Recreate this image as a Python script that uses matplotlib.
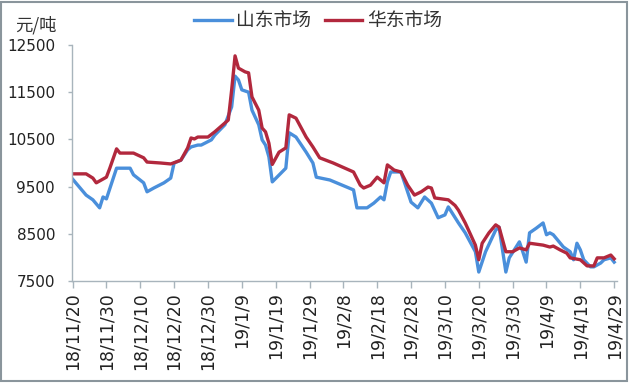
import matplotlib
matplotlib.use("Agg")
import matplotlib.pyplot as plt
from matplotlib.patches import Rectangle
import pandas as pd

plt.rcParams['font.family'] = ['DejaVu Sans', 'Noto Sans CJK SC']

# 山东市场 (blue)
sd_dates = ["2018-11-20", "2018-11-24", "2018-11-26", "2018-11-28", "2018-11-29", "2018-11-30",
            "2018-12-03", "2018-12-07", "2018-12-08", "2018-12-11", "2018-12-12", "2018-12-14",
            "2018-12-17", "2018-12-19", "2018-12-20", "2018-12-22", "2018-12-24", "2018-12-25",
            "2018-12-27", "2018-12-28", "2018-12-31", "2019-01-01", "2019-01-04", "2019-01-06",
            "2019-01-07", "2019-01-08", "2019-01-09", "2019-01-11", "2019-01-12", "2019-01-14",
            "2019-01-15", "2019-01-16", "2019-01-17", "2019-01-18", "2019-01-22", "2019-01-23",
            "2019-01-25", "2019-01-28", "2019-01-30", "2019-01-31", "2019-02-04", "2019-02-11",
            "2019-02-12", "2019-02-15", "2019-02-17", "2019-02-19", "2019-02-20", "2019-02-21",
            "2019-02-22", "2019-02-25", "2019-02-26", "2019-02-28", "2019-03-02", "2019-03-04",
            "2019-03-06", "2019-03-08", "2019-03-10", "2019-03-11", "2019-03-14", "2019-03-16",
            "2019-03-19", "2019-03-20", "2019-03-22", "2019-03-25", "2019-03-26", "2019-03-28",
            "2019-03-29", "2019-04-01", "2019-04-02", "2019-04-03", "2019-04-04", "2019-04-06",
            "2019-04-08", "2019-04-09", "2019-04-10", "2019-04-11", "2019-04-14", "2019-04-16",
            "2019-04-17", "2019-04-18", "2019-04-19", "2019-04-20", "2019-04-22", "2019-04-23",
            "2019-04-25", "2019-04-26", "2019-04-28", "2019-04-29"]
sd_values = [9660, 9320, 9220, 9050, 9280, 9240,
             9890, 9890, 9750, 9580, 9390, 9470,
             9580, 9680, 10000, 10060, 10280, 10340,
             10380, 10380, 10490, 10590, 10810, 11190,
             11840, 11760, 11550, 11500, 11120, 10810,
             10490, 10380, 10130, 9600, 9890, 10640,
             10550, 10230, 10000, 9700, 9640, 9430,
             9050, 9050, 9150, 9280, 9220, 9600,
             9810, 9810, 9600, 9170, 9050, 9280,
             9150, 8840, 8900, 9070, 8730, 8520,
             8120, 7690, 8120, 8580, 8640, 7690,
             7990, 8330, 8120, 7900, 8520, 8620,
             8730, 8480, 8520, 8480, 8220, 8120,
             7950, 8300, 8160, 7950, 7800, 7800,
             7880, 7950, 7990, 7900]

# 华东市场 (red)
hd_dates = ["2018-11-20", "2018-11-24", "2018-11-26", "2018-11-27", "2018-11-29", "2018-11-30",
            "2018-12-01", "2018-12-03", "2018-12-04", "2018-12-08", "2018-12-11", "2018-12-12",
            "2018-12-16", "2018-12-19", "2018-12-22", "2018-12-24", "2018-12-25", "2018-12-26",
            "2018-12-27", "2018-12-30", "2019-01-01", "2019-01-05", "2019-01-06", "2019-01-07",
            "2019-01-08", "2019-01-10", "2019-01-11", "2019-01-12", "2019-01-14", "2019-01-15",
            "2019-01-16", "2019-01-17", "2019-01-18", "2019-01-20", "2019-01-22", "2019-01-23",
            "2019-01-25", "2019-01-28", "2019-01-30", "2019-02-01", "2019-02-05", "2019-02-11",
            "2019-02-13", "2019-02-14", "2019-02-16", "2019-02-18", "2019-02-20", "2019-02-21",
            "2019-02-23", "2019-02-25", "2019-02-27", "2019-03-01", "2019-03-03", "2019-03-05",
            "2019-03-06", "2019-03-07", "2019-03-11", "2019-03-13", "2019-03-14", "2019-03-16",
            "2019-03-19", "2019-03-20", "2019-03-21", "2019-03-23", "2019-03-25", "2019-03-26",
            "2019-03-28", "2019-03-30", "2019-04-01", "2019-04-03", "2019-04-04", "2019-04-08",
            "2019-04-10", "2019-04-11", "2019-04-13", "2019-04-15", "2019-04-16", "2019-04-19",
            "2019-04-21", "2019-04-23", "2019-04-24", "2019-04-26", "2019-04-28", "2019-04-29"]
hd_values = [9770, 9770, 9680, 9580, 9660, 9700,
             9890, 10300, 10210, 10210, 10110, 10020,
             10000, 9980, 10060, 10320, 10530, 10510,
             10550, 10550, 10660, 10910, 11550, 12270,
             12010, 11930, 11910, 11400, 11120, 10740,
             10660, 10420, 9970, 10230, 10320, 11020,
             10950, 10550, 10340, 10110, 10000, 9810,
             9530, 9470, 9530, 9700, 9580, 9960,
             9850, 9810, 9530, 9320, 9390, 9490,
             9470, 9260, 9220, 9100, 9000, 8730,
             8260, 7950, 8300, 8520, 8690, 8640,
             8120, 8120, 8200, 8160, 8300, 8260,
             8220, 8240, 8160, 8090, 7990, 7950,
             7820, 7820, 7990, 7990, 8050, 7970]

x_tick_labels = ["18/11/20", "18/11/30", "18/12/10", "18/12/20", "18/12/30", "19/1/9",
                 "19/1/19", "19/1/29", "19/2/8", "19/2/18", "19/2/28", "19/3/10",
                 "19/3/20", "19/3/30", "19/4/9", "19/4/19", "19/4/29"]
y_ticks = [7500, 8500, 9500, 10500, 11500, 12500]
series_names = ["山东市场", "华东市场"]
unit_label = "元/吨"

blue = "#4a8fdb"
red = "#b2283d"
axis_col = "#a8b4bc"
cjk = ['Noto Sans CJK SC', 'DejaVu Sans']

fig = plt.figure(figsize=(6.32, 3.86), dpi=100)
ax = fig.add_axes([72/632, 1 - 281/386, (617 - 72)/632, (281 - 45)/386])

sd_x = pd.to_datetime(sd_dates)
hd_x = pd.to_datetime(hd_dates)
ax.plot(sd_x, sd_values, color=blue, lw=2.4, label=series_names[0], solid_joinstyle='round')
ax.plot(hd_x, hd_values, color=red, lw=2.4, label=series_names[1], solid_joinstyle='round')

tick_dates = [pd.to_datetime("20" + s, format="%Y/%m/%d") for s in x_tick_labels]
ax.set_xticks(tick_dates)
ax.set_xticklabels(x_tick_labels, rotation=90, fontsize=12.5, color="#222222")
ax.set_xlim(pd.Timestamp("2018-11-20") - pd.Timedelta(hours=4),
            pd.Timestamp("2019-04-29") + pd.Timedelta(hours=20))

ax.set_ylim(7500, 12500)
ax.set_yticks(y_ticks)
ax.set_yticklabels([str(v) for v in y_ticks], fontsize=11, color="#222222")

for s in ["top", "right"]:
    ax.spines[s].set_visible(False)
for s in ["left", "bottom"]:
    ax.spines[s].set_color(axis_col)
    ax.spines[s].set_linewidth(1.0)
ax.tick_params(axis="x", direction="out", length=5, color=axis_col, width=1.0, pad=3)
ax.tick_params(axis="y", direction="out", length=3, color=axis_col, width=1.0, pad=9.2)

fig.text(15/632, 1 - 25/386, unit_label, fontsize=12.5, color="#333333",
         family=cjk, va="center", ha="left")

leg = fig.legend(loc="center", bbox_to_anchor=(318/632, 1 - 21/386), ncol=2, frameon=False,
                 prop={"family": cjk, "size": 13.5},
                 handlelength=2.0, columnspacing=0.7, handletextpad=0.25)
for t in leg.get_texts():
    t.set_color("#333333")

fig.patches.append(Rectangle((0.002, 0.012), 0.99, 0.984, transform=fig.transFigure,
                             fill=False, edgecolor="#8a959c", linewidth=1.5))

fig.savefig("out.png", dpi=100)
